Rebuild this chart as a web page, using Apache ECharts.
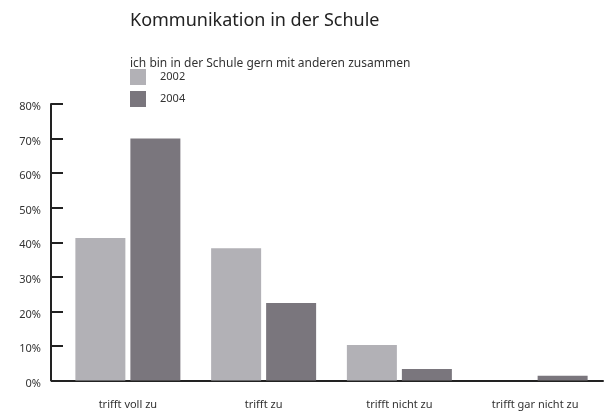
<!DOCTYPE html>
<html><head><meta charset="utf-8">
<script src="https://cdn.jsdelivr.net/npm/echarts@6/dist/echarts.min.js"></script>
<style>html,body{margin:0;padding:0;background:#fff}#c{width:607px;height:411px}</style>
</head><body><div id="c"></div>
<script>
const categories = ['trifft voll zu', 'trifft zu', 'trifft nicht zu', 'trifft gar nicht zu'];
const values2002 = [41.2, 38.3, 10.3, 0];
const values2004 = [70, 22.4, 3.3, 1.4];
const seriesNames = ['2002', '2004'];
const titleText = 'Kommunikation in der Schule';
const subtitleText = 'ich bin in der Schule gern mit anderen zusammen';

const FONT = '"Noto Sans", sans-serif';
const chart = echarts.init(document.getElementById('c'), null, {renderer: 'canvas'});
chart.setOption({
  animation: false,
  backgroundColor: '#fff',
  textStyle: {fontFamily: FONT},
  title: [
    {text: titleText, left: 125, top: 7, textStyle: {fontFamily: FONT, fontSize: 18, fontWeight: 'normal', color: '#222'}},
    {text: subtitleText, left: 125, top: 53, textStyle: {fontFamily: FONT, fontSize: 12, fontWeight: 'normal', color: '#333'}}
  ],
  legend: {
    orient: 'vertical', left: 130, top: 69, padding: 0,
    itemWidth: 16, itemHeight: 16, itemGap: 6,
    icon: 'rect',
    textStyle: {fontFamily: FONT, fontSize: 11, color: '#333', padding: [0, 0, 0, 9]},
    data: seriesNames
  },
  grid: {left: 60, right: 4, top: 104, bottom: 30.5, containLabel: false},
  xAxis: {
    type: 'category', data: categories,
    axisLine: {lineStyle: {color: '#222', width: 2}},
    axisTick: {show: false},
    axisLabel: {fontFamily: FONT, fontSize: 11, color: '#333', margin: 19}
  },
  yAxis: {
    type: 'value', min: 0, max: 80, interval: 10, offset: 9,
    axisLine: {show: true, lineStyle: {color: '#222', width: 2}},
    axisTick: {show: true, inside: true, length: 12, lineStyle: {color: '#222', width: 2}},
    splitLine: {show: false},
    axisLabel: {fontFamily: FONT, fontSize: 11, color: '#333', margin: 10, formatter: '{value}%', verticalAlign: 'top', lineHeight: 6}
  },
  series: [
    {name: seriesNames[0], type: 'bar', data: values2002, barWidth: 50, barGap: '10%', itemStyle: {color: '#b2b1b6'}},
    {name: seriesNames[1], type: 'bar', data: values2004, barWidth: 50, barGap: '10%', itemStyle: {color: '#7a767d'}}
  ]
});
</script></body></html>
